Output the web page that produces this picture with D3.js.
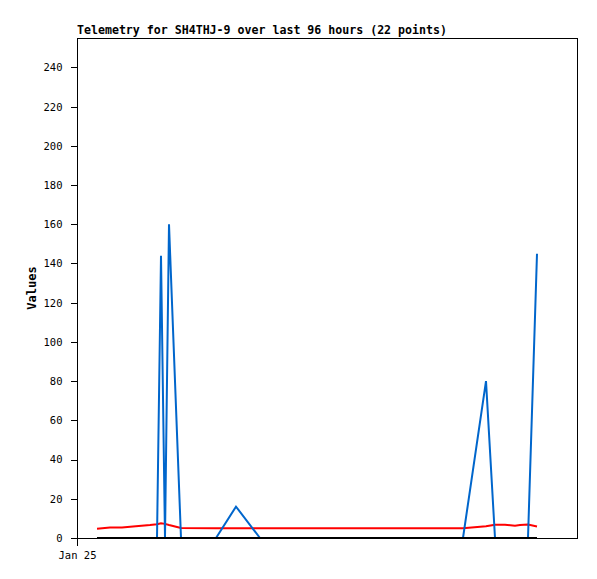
<!DOCTYPE html>
<html>
<head>
<meta charset="utf-8">
<script src="https://cdn.jsdelivr.net/npm/d3@7"></script>
<style>
  html, body { margin: 0; padding: 0; background: #fff; }
  svg { display: block; }
  .tick text { font-family: "DejaVu Sans Mono", monospace; font-size: 10.5px; fill: #000; }
</style>
</head>
<body>
<svg id="chart" width="597" height="579"></svg>
<script>
// Hours since Jan 25 00:00
const hours = [4, 6.6, 9, 11.2, 14.6, 16, 16.8, 17.6, 18.4, 20.8, 27.8, 31.8, 36.6, 60, 77.2, 81.8, 83.6, 85.6, 87.6, 88.6, 90.2, 92];
const blueValues = [0, 0, 0, 0, 0, 0, 144, 0, 160, 0, 0, 16, 0, 0, 0, 80, 0, 0, 0, 0, 0, 145];
const redValues = [4.7, 5.4, 5.4, 5.9, 6.6, 7.0, 7.5, 7.2, 6.6, 5.1, 5.0, 5.0, 5.0, 5.0, 5.0, 6.0, 6.8, 6.8, 6.2, 6.6, 6.9, 5.9];
const blackValues = [0, 0, 0, 0, 0, 0, 0, 0, 0, 0, 0, 0, 0, 0, 0, 0, 0, 0, 0, 0, 0, 0];
const yTicks = [0, 20, 40, 60, 80, 100, 120, 140, 160, 180, 200, 220, 240];
const xTicks = [0];
const xTickLabels = ["Jan 25"];
const title = "Telemetry for SH4THJ-9 over last 96 hours (22 points)";
const yLabel = "Values";

const margin = {left: 77, top: 38, right: 20, bottom: 41};
const W = 597, H = 579;
const pw = W - margin.left - margin.right; // 500
const ph = H - margin.top - margin.bottom; // 500

const svg = d3.select("#chart");
svg.append("rect").attr("width", W).attr("height", H).attr("fill", "#fff");

const x = d3.scaleLinear().domain([0, 100]).range([0, pw]);
const y = d3.scaleLinear().domain([0, 255]).range([ph, 0]);

const g = svg.append("g").attr("transform", `translate(${margin.left},${margin.top})`);

// frame (top and right)
g.append("path")
  .attr("d", `M0.5,0.5H${pw + 0.5}V${ph + 0.5}`)
  .attr("fill", "none").attr("stroke", "#000").attr("stroke-width", 1)
  .attr("shape-rendering", "crispEdges");

const line = vals => d3.line().x((d, i) => x(hours[i])).y(d => y(d))(vals);

g.append("path").attr("d", line(redValues))
  .attr("fill", "none").attr("stroke", "#ff0000").attr("stroke-width", 2).attr("stroke-linejoin", "miter");
g.append("path").attr("d", line(blueValues))
  .attr("fill", "none").attr("stroke", "#0066cc").attr("stroke-width", 2).attr("stroke-linejoin", "miter");

// axes
const yAxis = d3.axisLeft(y).tickValues(yTicks).tickSize(7).tickPadding(8).tickSizeOuter(0);
const ya = g.append("g").attr("transform", "translate(0.5,0)").call(yAxis);
ya.select(".domain").attr("stroke", "#000").attr("d", `M0,0V${ph}`).attr("shape-rendering", "crispEdges");
ya.selectAll(".tick line").attr("shape-rendering", "crispEdges");

const xAxis = d3.axisBottom(x).tickValues(xTicks).tickFormat((d, i) => xTickLabels[i]).tickSize(7).tickPadding(6).tickSizeOuter(0);
const xa = g.append("g").attr("transform", `translate(0,${ph + 0.5})`).call(xAxis);
xa.select(".domain").attr("stroke", "#000").attr("d", `M0,0H${pw}`).attr("shape-rendering", "crispEdges");
xa.selectAll(".tick line").attr("shape-rendering", "crispEdges");
xa.selectAll(".tick text").attr("dy", "0.75em");

g.append("path").attr("d", line(blackValues))
  .attr("fill", "none").attr("stroke", "#000").attr("stroke-width", 2);

// title
svg.append("text").attr("x", margin.left).attr("y", 34)
  .attr("font-family", "'DejaVu Sans Mono', monospace").attr("font-weight", "bold")
  .attr("font-size", "11.6px").attr("fill", "#000").text(title);

// y label
svg.append("text")
  .attr("transform", `translate(36,${margin.top + ph / 2}) rotate(-90)`)
  .attr("text-anchor", "middle")
  .attr("font-family", "'DejaVu Sans Mono', monospace").attr("font-weight", "bold")
  .attr("font-size", "12px").attr("fill", "#000").text(yLabel);
</script>
</body>
</html>
